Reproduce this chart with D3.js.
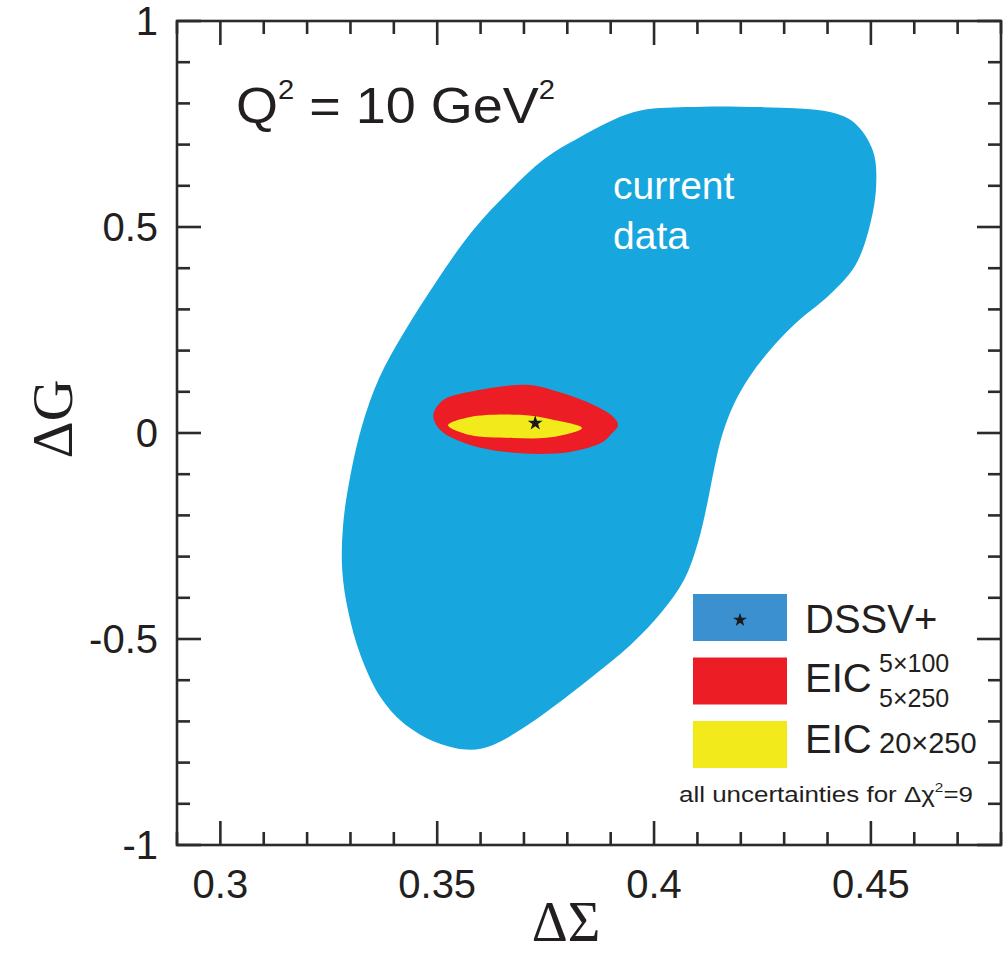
<!DOCTYPE html>
<html><head><meta charset="utf-8">
<script src="https://cdn.jsdelivr.net/npm/d3@7"></script>
<style>
body{margin:0;background:#fff}
svg{display:block}
text{font-family:"Liberation Sans",Arial,Helvetica,sans-serif;fill:#231f20}
</style>
</head><body><svg id="c" width="1007" height="953"></svg>
<script>
// ---- data ----
const xTickValues = [0.3, 0.35, 0.4, 0.45];
const xTickLabels = ["0.3", "0.35", "0.4", "0.45"];
const yTickValues = [-1, -0.5, 0, 0.5, 1];
const yTickLabels = ["-1", "-0.5", "0", "0.5", "1"];
const xMinorTicks = [0.29,0.30,0.31,0.32,0.33,0.34,0.35,0.36,0.37,0.38,0.39,0.40,0.41,0.42,0.43,0.44,0.45,0.46,0.47,0.48];
const yMinorTicks = [-1,-0.9,-0.8,-0.7,-0.6,-0.5,-0.4,-0.3,-0.2,-0.1,0,0.1,0.2,0.3,0.4,0.5,0.6,0.7,0.8,0.9,1];

// DSSV+ current data uncertainty region (ΔΣ, ΔG)
const currentData = [
  [0.3829,0.718],[0.3954,0.779],[0.4076,0.791],[0.4242,0.791],[0.4406,0.779],[0.4463,0.752],
  [0.4505,0.684],[0.4512,0.597],[0.4495,0.493],[0.4463,0.405],[0.4406,0.337],[0.4327,0.267],
  [0.4267,0.201],[0.4221,0.138],[0.4184,0.070],[0.4157,-0.005],[0.4138,-0.090],[0.4122,-0.175],
  [0.4101,-0.267],[0.4069,-0.357],[0.4018,-0.434],[0.3945,-0.515],[0.3853,-0.595],[0.3767,-0.665],
  [0.3691,-0.721],[0.3629,-0.757],[0.3576,-0.769],[0.3500,-0.752],[0.3422,-0.704],[0.3369,-0.641],
  [0.3323,-0.539],[0.3295,-0.434],[0.3281,-0.333],[0.3283,-0.223],[0.3300,-0.102],[0.3327,0.019],
  [0.3366,0.133],[0.3424,0.245],[0.3500,0.371],[0.3583,0.493],[0.3666,0.587],[0.3747,0.665]
];
// EIC 5x100, 5x250
const eicLow = [
  [0.3491,0.044],[0.3514,0.080],[0.3576,0.100],[0.3707,0.117],[0.3767,0.104],[0.3846,0.075],
  [0.3906,0.039],[0.3917,0.019],[0.3899,-0.005],[0.3882,-0.022],[0.3806,-0.046],[0.3691,-0.049],
  [0.3576,-0.029],[0.3507,0.007]
];
// EIC 20x250
const eicHigh = [
  [0.3525,0.019],[0.3576,0.039],[0.3691,0.044],[0.3767,0.032],[0.3834,0.012],
  [0.3767,-0.010],[0.3675,-0.012],[0.3576,-0.005]
];
const bestFit = [0.3726, 0.024];

// ---- layout ----
const svg = d3.select("#c");
const L = 177, R = 1001, T = 21, B = 845;
const x = d3.scaleLinear().domain([0.29, 0.48]).range([L, R]);
const y = d3.scaleLinear().domain([-1, 1]).range([B, T]);

const line = d3.line().x(d => x(d[0])).y(d => y(d[1])).curve(d3.curveCatmullRomClosed.alpha(0.5));

svg.append("path").attr("d", line(currentData)).attr("fill", "#17a6de");
svg.append("path").attr("d", line(eicLow)).attr("fill", "#ec1d25");
svg.append("path").attr("d", line(eicHigh)).attr("fill", "#f2ea1a");
svg.append("path")
  .attr("d", d3.symbol(d3.symbolStar).size(70)())
  .attr("transform", `translate(${x(bestFit[0])},${y(bestFit[1])})`)
  .attr("fill", "#1a1a1a");

// labels in plot
svg.append("text").attr("x", 613).attr("y", 199).attr("font-size", 39).style("fill", "#fff").text("current");
svg.append("text").attr("x", 613).attr("y", 249).attr("font-size", 39).style("fill", "#fff").text("data");

const q = svg.append("text").attr("transform", "translate(236,123) scale(1.08,1)").attr("font-size", 50);
q.append("tspan").text("Q");
q.append("tspan").attr("font-size", 27).attr("dy", -24).text("2");
q.append("tspan").attr("dy", 24).text(" = 10 GeV");
q.append("tspan").attr("font-size", 27).attr("dy", -24).text("2");

// frame
svg.append("rect").attr("x", L).attr("y", T).attr("width", R - L).attr("height", B - T)
  .attr("fill", "none").attr("stroke", "#2b2b2b").attr("stroke-width", 2.6);

const tickG = svg.append("g").attr("stroke", "#2b2b2b").attr("stroke-width", 2.6);
const isMajorX = v => xTickValues.some(t => Math.abs(t - v) < 1e-6);
const isMajorY = v => yTickValues.some(t => Math.abs(t - v) < 1e-6);
xMinorTicks.forEach(v => {
  const len = isMajorX(v) ? 24 : 13;
  tickG.append("line").attr("x1", x(v)).attr("x2", x(v)).attr("y1", B).attr("y2", B - len);
  tickG.append("line").attr("x1", x(v)).attr("x2", x(v)).attr("y1", T).attr("y2", T + len);
});
yMinorTicks.forEach(v => {
  const len = isMajorY(v) ? 24 : 13;
  tickG.append("line").attr("y1", y(v)).attr("y2", y(v)).attr("x1", L).attr("x2", L + len);
  tickG.append("line").attr("y1", y(v)).attr("y2", y(v)).attr("x1", R).attr("x2", R - len);
});

// tick labels
svg.selectAll(".xl").data(xTickValues).enter().append("text")
  .attr("x", d => x(d)).attr("y", 898).attr("text-anchor", "middle").attr("font-size", 40)
  .text((d, i) => xTickLabels[i]);
svg.selectAll(".yl").data(yTickValues).enter().append("text")
  .attr("x", 158).attr("y", d => y(d) + 14).attr("text-anchor", "end").attr("font-size", 40)
  .text((d, i) => yTickLabels[i]);

// axis titles
svg.append("text").attr("x", 566).attr("y", 941).attr("text-anchor", "middle")
  .attr("font-size", 56).style("font-family", "'Liberation Serif','Times New Roman',serif").text("ΔΣ");
svg.append("text").attr("transform", "translate(72,419) rotate(-90)").attr("text-anchor", "middle")
  .attr("font-size", 58).style("font-family", "'Liberation Serif','Times New Roman',serif").text("ΔG");

// legend
const lg = svg.append("g");
const legendColors = ["#3b91cf", "#ec1d25", "#f2ea1a"];
const legendRows = [0, 1, 2];
lg.selectAll("rect").data(legendRows).enter().append("rect")
  .attr("x", 693).attr("y", d => 594 + d * 63.5).attr("width", 94).attr("height", 47)
  .attr("fill", d => legendColors[d]);
lg.append("path").attr("d", d3.symbol(d3.symbolStar).size(60)()).attr("transform", "translate(740,620)").attr("fill", "#1a1a1a");
lg.append("text").attr("x", 805).attr("y", 633).attr("font-size", 40).text("DSSV+");
lg.append("text").attr("x", 805).attr("y", 692).attr("font-size", 40).text("EIC");
lg.append("text").attr("x", 879).attr("y", 672).attr("font-size", 25).text("5×100");
lg.append("text").attr("x", 879).attr("y", 707).attr("font-size", 25).text("5×250");
lg.append("text").attr("x", 805).attr("y", 753).attr("font-size", 40).text("EIC");
lg.append("text").attr("x", 879).attr("y", 753).attr("font-size", 29).text("20×250");
const note = lg.append("text").attr("x", 679).attr("y", 802).attr("font-size", 22)
  .attr("textLength", 294).attr("lengthAdjust", "spacingAndGlyphs");
note.append("tspan").text("all uncertainties for Δχ");
note.append("tspan").attr("font-size", 13).attr("dy", -10).text("2");
note.append("tspan").attr("dy", 10).text("=9");
</script>
</body></html>
